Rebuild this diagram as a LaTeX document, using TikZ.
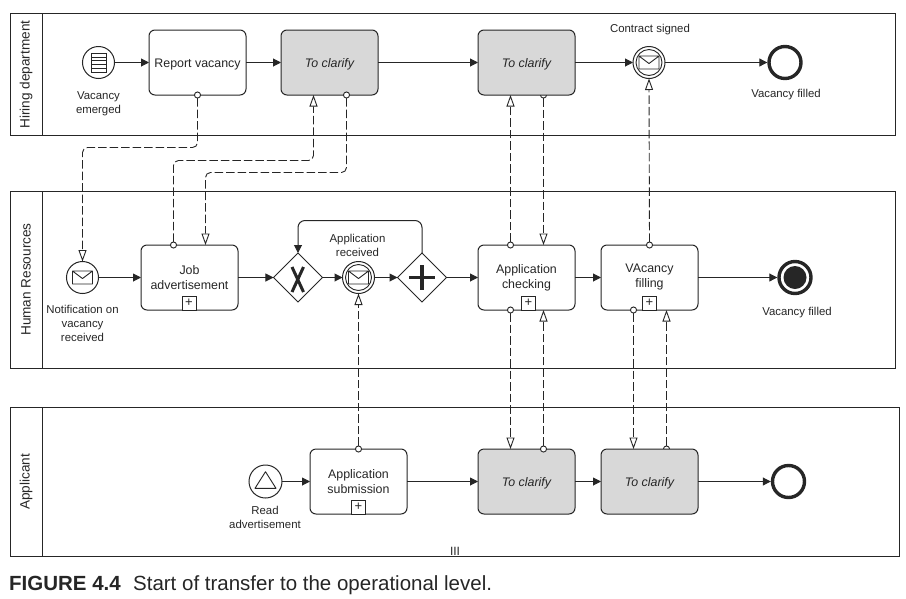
\documentclass[tikz,border=0pt]{standalone}
\usepackage{fontspec}
\setmainfont{Liberation Sans}
\usetikzlibrary{arrows.meta,shapes.geometric,calc,backgrounds}
\definecolor{ink}{HTML}{262626}
\definecolor{grayfill}{HTML}{D8D8D8}
\tikzset{
  every node/.style={text=ink},
  pool/.style={draw=ink,line width=1pt},
  poollabel/.style={rotate=90,font=\fontsize{13.6}{15}\selectfont,inner sep=0pt},
  task/.style={draw=ink,line width=1pt,fill=white,rounded corners=6pt,minimum width=97pt,minimum height=65pt,
    inner sep=0pt,outer sep=0pt,align=center,font=\fontsize{12.4}{15}\selectfont,
    execute at begin node={\rule{0pt}{12pt}}},
  clarify/.style={task,fill=grayfill,font=\fontsize{12.4}{15}\selectfont\itshape},
  event/.style={circle,draw=ink,line width=1pt,fill=white,minimum size=32pt,inner sep=0pt,outer sep=0pt},
  endevent/.style={event,line width=3.4pt,minimum size=32pt,outer sep=1.7pt},
  gateway/.style={diamond,draw=ink,line width=1pt,fill=white,minimum width=49pt,minimum height=49pt,inner sep=0pt,outer sep=0pt},
  evlabel/.style={align=center,font=\fontsize{11.4}{14}\selectfont,inner sep=0pt},
  flowline/.style={draw=ink,line width=1pt,-{Triangle[length=8pt,width=8pt]}},
  msg/.style={draw=ink,line width=0.9pt,dash pattern=on 8.5pt off 3pt,rounded corners=5pt,
    {Circle[open,length=7pt,width=7pt,fill=white]}-{Triangle[open,length=11.5pt,width=8pt,fill=white]},shorten <=-3.5pt},
  marker/.style={draw=ink,line width=0.9pt,fill=white,minimum size=14pt,inner sep=0pt,outer sep=0pt,
    font=\fontsize{13}{13}\selectfont},
  envelope/.pic={\draw[ink,line width=0.9pt,fill=white,line join=round] (-10,-6.5) rectangle (10,6.5) (-10,-6.5) -- (0,1) -- (10,-6.5);},
  innerring/.pic={\draw[ink,line width=0.9pt] (0,0) circle (13pt);},
}
\begin{document}
\begin{tikzpicture}[x=1pt,y=-1pt]
\useasboundingbox (0,0) rectangle (906,598);
% pools
\draw[pool] (10.5,13.5) rectangle (895.5,135.5) (42.5,13.5) -- (42.5,135.5);
\draw[pool] (10.5,191.5) rectangle (895.5,368.5) (42.5,191.5) -- (42.5,368.5);
\draw[pool] (10.5,407.5) rectangle (899.5,556.5) (42.5,407.5) -- (42.5,556.5);
\node[poollabel] (l1) at (26,74.5) {Hiring department};
\node[poollabel] (l2) at (26,279.5) {Human Resources};
\node[poollabel] (l3) at (26,482) {Applicant};
% top row
\node[event] (e1) at (98.5,62.5) {};
\draw[ink,line width=0.9pt] (91.7,53.3) rectangle (106,72);
\foreach \yy in {57,60.7,64.4,68.1} \draw[ink,line width=0.9pt] (91.7,\yy) -- (106,\yy);
\node[task] (rv) at (197.5,62.5) {Report vacancy};
\node[clarify] (c1) at (329.5,62.5) {To clarify};
\node[clarify] (c2) at (526.5,62.5) {To clarify};
\node[event] (e2) at (649,62.5) {};
\path (e2) pic {innerring} pic {envelope};
\node[endevent] (e3) at (785,62.5) {};
\node[evlabel] (t1) at (98.5,103.5) {Vacancy\\emerged};
\node[evlabel] (t2) at (650,30) {Contract signed};
\node[evlabel] (t3) at (786,95) {Vacancy filled};
% middle row
\node[event] (m1) at (82.5,277.5) {};
\path (m1) pic {envelope};
\node[task] (ja) at (189.5,277.5) {Job\\advertisement};
\node[gateway] (gx) at (298,277.5) {};
\draw[ink,line width=3pt] (292,267) -- (303.5,292) (303.5,267) -- (292,292);
\node[event] (m2) at (358.5,277.5) {};
\path (m2) pic {innerring} pic {envelope};
\node[gateway] (gp) at (422,277.5) {};
\draw[ink,line width=3.6pt] (409,277.5) -- (435,277.5) (422,265) -- (422,290);
\node[task] (ac) at (526.5,277.5) {Application\\checking};
\node[task] (vf) at (649.5,277.5) {VAcancy\\filling};
\node[event,line width=3.4pt,minimum size=32pt,outer sep=1.7pt] (m3) at (795,277.5) {};
\fill[ink] (m3) circle (11.5pt);
\node[evlabel] (t4) at (82.5,323) {Notification on\\vacancy\\received};
\node[evlabel] (t5) at (357.5,245) {Application\\received};
\node[evlabel] (t6) at (797,313) {Vacancy filled};
\node[marker] (mk1) at (189,303) {+};
\node[marker] (mk2) at (528.5,303) {+};
\node[marker] (mk3) at (649.5,303) {+};
% bottom row
\node[event,minimum size=33pt] (b1) at (265.5,481.5) {};
\draw[ink,line width=0.9pt,line join=round] (265.5,471.7) -- (255,488.3) -- (276,488.3) -- cycle;
\node[task] (as) at (358.5,481.5) {Application\\submission};
\node[clarify] (c3) at (526.5,481.5) {To clarify};
\node[clarify] (c4) at (649.5,481.5) {To clarify};
\node[endevent] (b2) at (788.5,481.5) {};
\node[evlabel] (t7) at (265,517) {Read\\advertisement};
\node[marker] (mk4) at (358.5,507) {+};
% sequence flows
\draw[flowline] (e1) -- (rv);
\draw[flowline] (rv) -- (c1);
\draw[flowline] (c1) -- (c2);
\draw[flowline] (c2) -- (e2);
\draw[flowline] (e2) -- (e3);
\draw[flowline] (m1) -- (ja);
\draw[flowline] (ja) -- (gx);
\draw[flowline] (gx) -- (m2);
\draw[flowline] (m2) -- (gp);
\draw[flowline] (gp) -- (ac);
\draw[flowline] (ac) -- (vf);
\draw[flowline] (vf) -- (m3);
\draw[flowline] (b1) -- (as);
\draw[flowline] (as) -- (c3);
\draw[flowline] (c3) -- (c4);
\draw[flowline] (c4) -- (b2);
\coordinate (loopc) at (360,220.5);
\draw[flowline,rounded corners=7pt] (gp.north) -- (gp.north |- loopc) -- (gx.north |- loopc) -- (gx.north);
% message flows
\coordinate (h1) at (150,147.5);
\coordinate (h2) at (250,160.5);
\coordinate (h3) at (280,172.5);
\coordinate (pja1) at (173.5,245);
\coordinate (pja2) at (205.5,245);
\coordinate (pc1a) at (313.5,95);
\coordinate (pc1b) at (346.5,95);
\coordinate (pc2a) at (510.5,95);
\coordinate (pc2b) at (543.5,95);
\coordinate (pac1) at (510.5,245);
\coordinate (pac2) at (543.5,245);
\coordinate (pac3) at (510.5,310);
\coordinate (pac4) at (543.5,310);
\coordinate (pvf1) at (633.5,310);
\coordinate (pvf2) at (666.5,310);
\coordinate (pc3a) at (510.5,449);
\coordinate (pc3b) at (543.5,449);
\coordinate (pc4a) at (633.5,449);
\coordinate (pc4b) at (666.5,449);
\draw[msg] (rv.south) -- (rv.south |- h1) -- (m1.north |- h1) -- (m1.north);
\draw[msg] (pja1) -- (pja1 |- h2) -- (pc1a |- h2) -- (pc1a);
\draw[msg] (pc1b) -- (pc1b |- h3) -- (pja2 |- h3) -- (pja2);
\draw[msg] (pac1) -- (pc2a);
\draw[msg] (vf.north) -- (e2.south);
\draw[msg] (as.north) -- (m2.south);
\draw[msg] (pac3) -- (pc3a);
\draw[msg] (pc3b) -- (pac4);
\draw[msg] (pvf1) -- (pc4a);
\begin{scope}[on background layer]
\draw[msg] (pc2b) -- (pac2);
\draw[msg] (pc4b) -- (pvf2);
\end{scope}
% stray mark and caption
\node[inner sep=0pt,font=\fontsize{12}{12}\selectfont] (iii) at (455,551) {III};
\node[anchor=base west,inner sep=0pt,font=\fontsize{20.5}{24}\selectfont] (cap) at (9,590) {\textbf{FIGURE 4.4}\hspace{0.6em}Start of transfer to the operational level.};
\end{tikzpicture}
\end{document}
